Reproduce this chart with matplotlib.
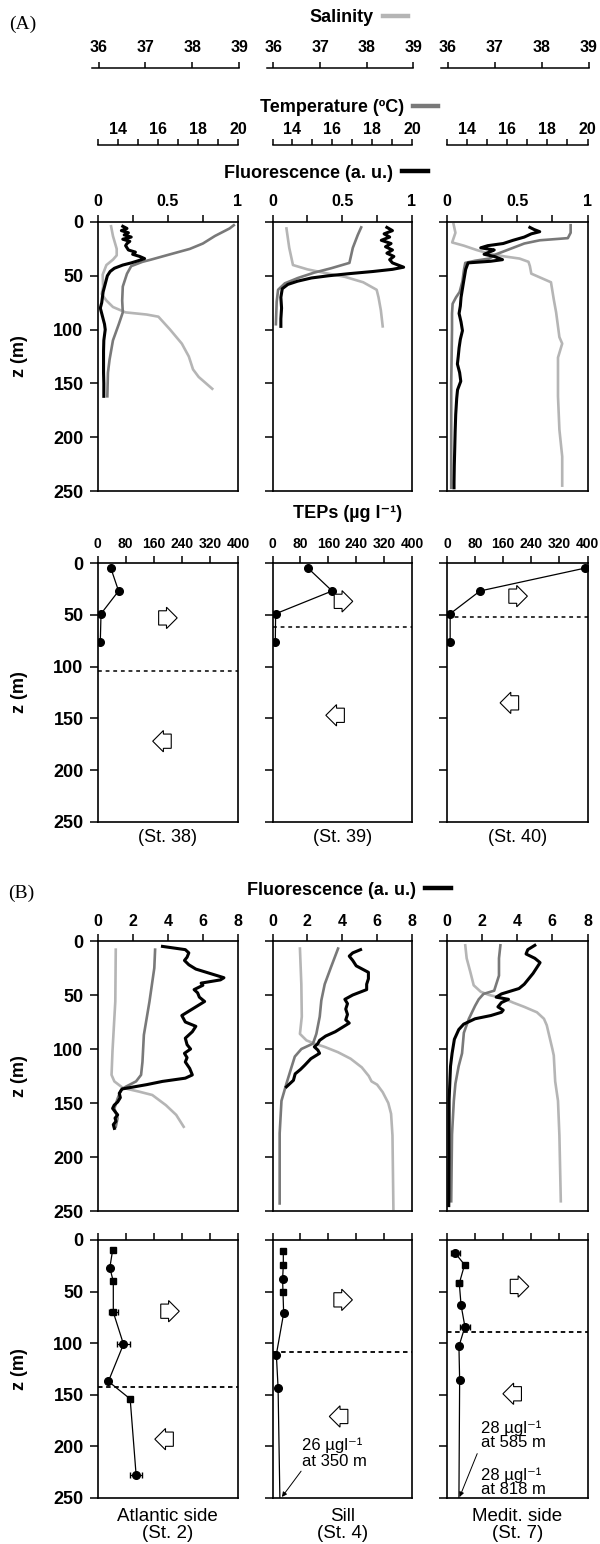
import matplotlib

matplotlib.use("Agg")
import matplotlib.pyplot as plt
from matplotlib.lines import Line2D

W, H = 600, 1544
plt.rcParams["font.family"] = ["Liberation Sans", "DejaVu Sans"]
plt.rcParams["font.weight"] = "bold"
plt.rcParams["axes.labelweight"] = "bold"

SAL_COLOR = "#b5b5b5"
TEMP_COLOR = "#797979"
FLUO_COLOR = "black"

# panel geometry in pixels (left, right) and (top, bottom)
COLUMNS = [(97.5, 238.0), (272.5, 412.0), (447.0, 587.5)]
ROW_A_PROFILE = (222, 491)
ROW_A_TEP = (563, 822)
ROW_B_PROFILE = (941, 1211)
ROW_B_TEP = (1240, 1498)

DEPTH_TICKS = [0, 50, 100, 150, 200, 250]
SAL_TICKS = [36, 37, 38, 39]
TEMP_TICKS = [13, 14, 15, 16, 17, 18, 19, 20]
TEMP_TICK_LABELS = ["", "14", "", "16", "", "18", "", "20"]
FLUO_A_TICKS = [0, 0.25, 0.5, 0.75, 1]
FLUO_A_TICK_LABELS = ["0", "", "0.5", "", "1"]
FLUO_B_TICKS = [0, 2, 4, 6, 8]
TEP_TICKS = [0, 80, 160, 240, 320, 400]

# ---- (A) CTD profiles, stations 38 / 39 / 40 ----
SAL_Z_38 = [4, 13, 25, 31, 35, 40, 49, 60, 67, 73, 79, 84, 86, 88, 100, 113, 125, 137, 144, 155]
SAL_38 = [36.29, 36.33, 36.41, 36.41, 36.33, 36.19, 36.11, 36.12, 36.09, 36.19, 36.33,
          36.6, 37.05, 37.3, 37.55, 37.8, 37.95, 38.04, 38.16, 38.45]
TEMP_Z_38 = [3, 6, 13, 20, 25, 31, 35, 37, 41, 48, 60, 73, 84, 95, 110, 128, 140, 162]
TEMP_38 = [19.79, 19.58, 18.85, 18.25, 17.6, 16.43, 15.66, 15.24, 14.68, 14.47, 14.26,
           14.23, 14.26, 14.06, 13.77, 13.6, 13.52, 13.49]
FLUO_Z_38 = [4, 6, 8, 10, 12, 14, 16, 18, 20, 22, 24, 26, 28, 30, 32, 34, 36, 38, 40, 43,
             46, 50, 55, 60, 65, 70, 75, 80, 85, 90, 95, 100, 110, 120, 130, 140, 150, 162]
FLUO_38 = [0.18, 0.21, 0.17, 0.22, 0.19, 0.24, 0.18, 0.23, 0.21, 0.2, 0.21, 0.22, 0.27,
           0.25, 0.3, 0.335, 0.29, 0.24, 0.18, 0.12, 0.09, 0.07, 0.06, 0.05, 0.04, 0.035,
           0.03, 0.02, 0.03, 0.04, 0.05, 0.055, 0.045, 0.043, 0.043, 0.043, 0.045, 0.045]

SAL_Z_39 = [6, 24, 40, 44, 48, 51, 56, 63, 70, 82, 97]
SAL_39 = [36.3, 36.36, 36.44, 36.75, 37.2, 37.56, 37.95, 38.24, 38.28, 38.33, 38.37]
TEMP_Z_39 = [5, 12, 24, 38, 43, 47, 52, 57, 63, 74, 95]
TEMP_39 = [17.45, 17.28, 17.03, 16.86, 15.94, 15.1, 14.28, 13.62, 13.28, 13.21, 13.17]
FLUO_Z_39 = [5, 8, 11, 14, 17, 20, 23, 26, 29, 32, 35, 38, 40, 42, 44, 46, 48, 50, 52, 55,
             58, 62, 70, 80, 90, 97]
FLUO_39 = [0.82, 0.86, 0.8, 0.84, 0.78, 0.85, 0.81, 0.86, 0.82, 0.87, 0.84, 0.86, 0.9,
           0.94, 0.86, 0.72, 0.55, 0.4, 0.28, 0.18, 0.11, 0.07, 0.06, 0.065, 0.06, 0.06]

SAL_Z_40 = [2, 10, 19, 22, 26, 29, 32, 34, 37, 41, 48, 56, 72, 84, 107, 113, 126, 162, 193, 218, 245]
SAL_40 = [36.14, 36.18, 36.11, 36.36, 36.63, 36.87, 37.23, 37.55, 37.74, 37.77, 37.8,
          38.22, 38.28, 38.33, 38.4, 38.46, 38.37, 38.37, 38.4, 38.46, 38.46]
TEMP_Z_40 = [3, 10, 15, 17, 20, 25, 30, 34, 36, 38, 45, 55, 65, 70, 76, 85, 100, 150, 200, 247]
TEMP_40 = [19.16, 19.16, 19.02, 17.62, 16.85, 16.15, 15.45, 15.1, 14.4, 13.91, 13.84,
           13.77, 13.63, 13.45, 13.28, 13.25, 13.25, 13.21, 13.21, 13.21]
FLUO_Z_40 = [5, 7, 9, 11, 14, 17, 20, 22, 24, 26, 28, 30, 32, 35, 36.5, 38, 44, 54, 62, 70,
             78, 85, 93, 101, 109, 117, 125, 132, 140, 148, 156, 164, 179, 195, 211, 226, 242, 247]
FLUO_40 = [0.59, 0.62, 0.66, 0.6, 0.55, 0.47, 0.4, 0.29, 0.24, 0.336, 0.3, 0.264, 0.336,
           0.395, 0.31, 0.15, 0.133, 0.12, 0.11, 0.1, 0.095, 0.086, 0.1, 0.11, 0.095, 0.086,
           0.08, 0.074, 0.09, 0.098, 0.075, 0.069, 0.062, 0.058, 0.055, 0.052, 0.05, 0.05]

# ---- (A) TEP profiles ----
TEP_A_DEPTH = [5, 27, 49, 76]
TEP_ST38 = [38, 60, 10, 8]
TEP_ST39 = [102, 171, 9, 8]
TEP_ST40 = [392, 94, 9, 9]
INTERFACE_A = [104, 62, 52]
STATIONS_A = ["(St. 38)", "(St. 39)", "(St. 40)"]

# ---- (B) CTD profiles, stations 2 / 4 / 7 ----
SAL_Z_2 = [8, 56, 102, 124, 130, 136, 139.5, 142.6, 152, 161, 172]
SAL_2 = [36.39, 36.38, 36.32, 36.3, 36.36, 36.54, 36.89, 37.17, 37.46, 37.68, 37.84]
TEMP_Z_2 = [8, 25, 56, 87, 112, 124, 130, 135, 138, 146, 155, 164, 172]
TEMP_2 = [15.87, 15.83, 15.59, 15.31, 15.24, 15.17, 14.92, 14.4, 14.17, 14.0, 13.84, 14.0, 13.91]
FLUO_Z_2 = [5, 8, 11, 15, 18, 22, 26, 28, 31, 34, 36, 39, 41, 45, 48, 52, 56, 61, 65, 69,
            72, 75, 79, 84, 87, 90, 96, 100, 104, 108, 112, 118, 124, 127, 130, 133, 137,
            141, 145, 149, 152, 155, 158, 161, 164, 167, 170, 173.5]
FLUO_2 = [3.7, 5.0, 5.2, 5.1, 4.95, 5.2, 5.6, 6.0, 6.6, 7.2, 7.0, 5.9, 6.0, 5.5, 5.7, 5.8,
          6.1, 5.6, 5.2, 4.8, 4.9, 5.0, 5.6, 5.4, 5.2, 5.0, 5.1, 5.3, 4.95, 5.1, 5.0, 5.25,
          5.4, 5.0, 3.7, 2.8, 1.4, 1.24, 1.3, 1.15, 0.95, 0.86, 1.0, 1.15, 1.0, 1.05, 0.9, 0.96]

SAL_Z_4 = [7, 40, 70, 86, 92, 95, 98, 103, 109, 117, 125, 130, 133, 140, 150, 160, 180, 248]
SAL_4 = [36.59, 36.62, 36.63, 36.59, 36.73, 36.9, 37.12, 37.41, 37.68, 37.92, 38.07,
         38.13, 38.25, 38.37, 38.49, 38.55, 38.58, 38.6]
TEMP_Z_4 = [7, 24, 40, 55, 70, 86, 95, 100, 107, 117, 132, 148, 178, 209, 243]
TEMP_4 = [16.29, 15.94, 15.62, 15.45, 15.37, 15.2, 15.03, 14.45, 14.12, 13.95, 13.7,
          13.45, 13.36, 13.36, 13.36]
FLUO_Z_4 = [8, 11, 14, 18, 23, 29, 35, 40, 45, 50, 54, 58, 63, 68, 73, 76, 80, 84, 88, 92,
            95, 98, 101, 104, 109, 115, 119, 123, 129, 135]
FLUO_4 = [5.05, 4.6, 4.4, 4.6, 4.8, 5.5, 5.5, 5.4, 5.4, 4.6, 4.15, 4.3, 4.2, 4.3, 4.2, 4.4,
          4.0, 3.6, 3.05, 2.7, 2.6, 2.4, 2.6, 2.7, 2.2, 1.85, 1.6, 1.3, 1.2, 0.8]

SAL_Z_7 = [4, 16, 29, 41, 47, 50, 53, 57, 61, 66, 72, 78, 100, 106, 130, 148, 180, 241]
SAL_7 = [36.39, 36.42, 36.5, 36.57, 36.72, 36.9, 37.2, 37.41, 37.65, 37.92, 38.07, 38.13,
         38.25, 38.28, 38.31, 38.37, 38.4, 38.43]
TEMP_Z_7 = [4, 16, 32, 46, 49, 54, 60, 72, 85, 104, 116, 132, 148, 179, 241]
TEMP_7 = [15.66, 15.59, 15.59, 15.35, 14.82, 14.58, 14.4, 14.09, 13.84, 13.75, 13.58,
          13.42, 13.34, 13.25, 13.21]
FLUO_Z_7 = [4, 8, 12, 16, 20, 25, 30, 36, 40, 44, 47, 49, 52, 54, 57, 61, 64, 66, 69, 72,
            77, 82, 91, 104, 116, 147, 200, 245]
FLUO_7 = [5.0, 4.6, 4.5, 5.0, 5.3, 5.1, 4.9, 4.6, 4.4, 4.1, 3.5, 3.1, 2.8, 3.5, 3.1, 2.9,
          3.2, 3.1, 2.5, 1.6, 0.95, 0.67, 0.42, 0.29, 0.2, 0.12, 0.12, 0.1]

# ---- (B) TEP profiles (last values lie below 250 m) ----
TEP_Z_2 = [10, 27, 40, 70, 101, 137, 154, 228]
TEP_2 = [43, 35, 45, 45, 74, 31, 93, 110]
TEP_ERR_2 = [0, 0, 0, 13, 19, 0, 0, 18]
TEP_MARK_2 = ["s", "o", "s", "s", "o", "o", "s", "o"]

TEP_Z_4 = [11, 24, 38, 50, 71, 111, 143, 350]
TEP_4 = [31, 31, 29, 30, 32, 11, 16, 26]
TEP_ERR_4 = [0, 0, 0, 0, 0, 0, 0, 0]
TEP_MARK_4 = ["s", "s", "o", "s", "o", "o", "o", "o"]

TEP_Z_7 = [13, 24, 42, 63, 84, 103, 136, 585, 818]
TEP_7 = [24, 50, 35, 40, 51, 34, 36, 28, 28]
TEP_ERR_7 = [13, 0, 8, 0, 14, 0, 0, 0, 0]
TEP_MARK_7 = ["o", "s", "s", "o", "o", "o", "o", "o", "o"]

INTERFACE_B = [142, 109, 89]
STATIONS_B = ["Atlantic side\n(St. 2)", "Sill\n(St. 4)", "Medit. side\n(St. 7)"]

# block arrows: (TEP value, depth) of inflow (right) and outflow (left)
ARROWS_A = [((194, 53), (190, 172)), ((197, 37), (186, 147)), ((196, 32), (184, 135))]
ARROWS_B = [((200, 69), (196, 193)), ((196, 58), (196, 171)), ((200, 45), (192, 149))]


def add_panel(fig, cols, rows):
    (x0, x1), (y0, y1) = cols, rows
    return fig.add_axes([x0 / W, 1 - y1 / H, (x1 - x0) / W, (y1 - y0) / H])


def style_panel(ax, xlim, xticks, xticklabels, first, label_pad=4.5, label_size=11.5):
    ax.set_xlim(*xlim)
    ax.set_ylim(250, 0)
    ax.xaxis.tick_top()
    ax.set_xticks(xticks)
    ax.set_xticklabels(xticklabels)
    ax.set_yticks(DEPTH_TICKS)
    ax.tick_params(axis="x", direction="out", length=5, width=1.1, pad=label_pad,
                   labelsize=label_size)
    ax.tick_params(axis="y", direction="out", length=5.5, width=1.1, pad=4.5, labelsize=13)
    for spine in ax.spines.values():
        spine.set_linewidth(1.2)
    if first:
        ax.set_ylabel("z (m)", fontsize=13, fontweight="bold")
        ax.yaxis.set_label_coords(-0.495, 0.5)
    else:
        ax.set_yticklabels([])


def draw_profile(ax, sal_z, sal, temp_z, temp, fluo_z, fluo):
    ax_s = ax.twiny()
    ax_t = ax.twiny()
    ax_s.set_xlim(36, 39)
    ax_t.set_xlim(13, 20)
    for tw in (ax_s, ax_t):
        tw.set_axis_off()
    ax_s.plot(sal, sal_z, color=SAL_COLOR, lw=1.9, solid_joinstyle="round")
    ax_t.plot(temp, temp_z, color=TEMP_COLOR, lw=1.9, solid_joinstyle="round")
    ax.plot(fluo, fluo_z, color=FLUO_COLOR, lw=2.2, solid_joinstyle="round")
    ax.set_zorder(5)
    ax.patch.set_visible(False)


def block_arrow(ax, x, z, style):
    ax.text(x, z, "   ", ha="center", va="center", fontsize=5.8,
            bbox=dict(boxstyle=f"{style},pad=0.45", fc="white", ec="black", lw=0.8))


def add_scale_bar(fig, x0, x1, y, lim, ticks, labels, pad):
    ax = fig.add_axes([x0 / W, 1 - y / H, (x1 - x0) / W, 0.0001])
    ax.set_xlim(*lim)
    ax.patch.set_visible(False)
    for name in ("left", "right", "bottom"):
        ax.spines[name].set_visible(False)
    ax.spines["top"].set_linewidth(1.1)
    ax.yaxis.set_visible(False)
    ax.xaxis.tick_top()
    ax.set_xticks(ticks)
    ax.set_xticklabels(labels)
    ax.tick_params(axis="x", direction="out", length=4, width=1.1, pad=pad, labelsize=11.5)


def key(fig, label, color, cx, cy):
    fig.legend(handles=[Line2D([], [], color=color, lw=3.2)], labels=[label],
               loc="center", bbox_to_anchor=(cx / W, 1 - cy / H), frameon=False,
               markerfirst=False, handlelength=1.4, handletextpad=0.5, borderpad=0,
               borderaxespad=0, prop={"weight": "bold", "size": 13})


fig = plt.figure(figsize=(W / 100, H / 100), dpi=100)

fig.text(9 / W, 1 - 24 / H, "(A)", family=["Liberation Serif"], weight="normal",
         fontsize=14, va="center", ha="left")
fig.text(8 / W, 1 - 893 / H, "(B)", family=["Liberation Serif"], weight="normal",
         fontsize=14, va="center", ha="left")

key(fig, "Salinity", SAL_COLOR, 359, 18)
key(fig, "Temperature (ºC)", TEMP_COLOR, 349, 108)
key(fig, "Fluorescence (a. u.)", FLUO_COLOR, 326, 173)
key(fig, "Fluorescence (a. u.)", FLUO_COLOR, 349, 890)
fig.text(348 / W, 1 - 513 / H, "TEPs (µg l⁻¹)", fontsize=13, ha="center", va="center")

for x0, x1 in COLUMNS:
    add_scale_bar(fig, x0 - 6, x1 + 1.3, 68, (35.85, 39), SAL_TICKS,
                  [str(t) for t in SAL_TICKS], 5)
    add_scale_bar(fig, x0, x1, 145, (13, 20), TEMP_TICKS, TEMP_TICK_LABELS, 1.5)

A_PROFILES = [
    (SAL_Z_38, SAL_38, TEMP_Z_38, TEMP_38, FLUO_Z_38, FLUO_38),
    (SAL_Z_39, SAL_39, TEMP_Z_39, TEMP_39, FLUO_Z_39, FLUO_39),
    (SAL_Z_40, SAL_40, TEMP_Z_40, TEMP_40, FLUO_Z_40, FLUO_40),
]
B_PROFILES = [
    (SAL_Z_2, SAL_2, TEMP_Z_2, TEMP_2, FLUO_Z_2, FLUO_2),
    (SAL_Z_4, SAL_4, TEMP_Z_4, TEMP_4, FLUO_Z_4, FLUO_4),
    (SAL_Z_7, SAL_7, TEMP_Z_7, TEMP_7, FLUO_Z_7, FLUO_7),
]
A_TEPS = [TEP_ST38, TEP_ST39, TEP_ST40]
B_TEPS = [
    (TEP_Z_2, TEP_2, TEP_ERR_2, TEP_MARK_2),
    (TEP_Z_4, TEP_4, TEP_ERR_4, TEP_MARK_4),
    (TEP_Z_7, TEP_7, TEP_ERR_7, TEP_MARK_7),
]

for i, cols in enumerate(COLUMNS):
    first = i == 0

    # (A) CTD
    ax = add_panel(fig, cols, ROW_A_PROFILE)
    draw_profile(ax, *A_PROFILES[i])
    style_panel(ax, (0, 1), FLUO_A_TICKS, FLUO_A_TICK_LABELS, first, label_pad=4)

    # (A) TEP
    ax = add_panel(fig, cols, ROW_A_TEP)
    ax.plot(A_TEPS[i], TEP_A_DEPTH, color="black", lw=0.9, marker="o", ms=5.5)
    ax.axhline(INTERFACE_A[i], color="black", lw=1.1, ls=(0, (2.5, 2.5)))
    (rx, rz), (lx, lz) = ARROWS_A[i]
    block_arrow(ax, rx, rz, "rarrow")
    block_arrow(ax, lx, lz, "larrow")
    style_panel(ax, (0, 400), TEP_TICKS, [str(t) for t in TEP_TICKS], first,
                label_pad=3.5, label_size=10)
    ax.text(0.5, -16 / 259, STATIONS_A[i], transform=ax.transAxes, ha="center",
            va="center", fontsize=13, weight="normal")

    # (B) CTD
    ax = add_panel(fig, cols, ROW_B_PROFILE)
    draw_profile(ax, *B_PROFILES[i])
    style_panel(ax, (0, 8), FLUO_B_TICKS, [str(t) for t in FLUO_B_TICKS], first,
                label_pad=3.5)

    # (B) TEP
    ax = add_panel(fig, cols, ROW_B_TEP)
    z, v, err, marks = B_TEPS[i]
    ax.plot(v, z, color="black", lw=0.9)
    ax.errorbar(v, z, xerr=err, fmt="none", ecolor="black", elinewidth=0.9, capsize=2.5)
    for xv, zv, m in zip(v, z, marks):
        ax.plot(xv, zv, marker=m, color="black", ms=5.5 if m == "o" else 5)
    ax.axhline(INTERFACE_B[i], color="black", lw=1.3, ls=(0, (2.5, 2)))
    (rx, rz), (lx, lz) = ARROWS_B[i]
    block_arrow(ax, rx, rz, "rarrow")
    block_arrow(ax, lx, lz, "larrow")
    style_panel(ax, (0, 400), TEP_TICKS, [], first)
    ax.text(0.5, -27 / 258, STATIONS_B[i], transform=ax.transAxes, ha="center",
            va="center", fontsize=13.5, weight="normal", linespacing=1.0)

    if i == 1:
        ax.annotate("", xy=(27, 249), xytext=(82, 224),
                    arrowprops=dict(arrowstyle="-|>", lw=0.7, color="black",
                                    mutation_scale=7, shrinkA=0, shrinkB=0))
        ax.text(86, 199, "26 µgl⁻¹", fontsize=12, weight="normal", va="center")
        ax.text(86, 215, "at 350 m", fontsize=12, weight="normal", va="center")
    if i == 2:
        ax.annotate("", xy=(36, 249), xytext=(86, 207),
                    arrowprops=dict(arrowstyle="-|>", lw=0.7, color="black",
                                    mutation_scale=7, shrinkA=0, shrinkB=0))
        ax.text(98, 182, "28 µgl⁻¹", fontsize=12, weight="normal", va="center")
        ax.text(98, 196, "at 585 m", fontsize=12, weight="normal", va="center")
        ax.text(98, 228, "28 µgl⁻¹", fontsize=12, weight="normal", va="center")
        ax.text(98, 242, "at 818 m", fontsize=12, weight="normal", va="center")

fig.savefig("out.png", dpi=100, facecolor="white")
